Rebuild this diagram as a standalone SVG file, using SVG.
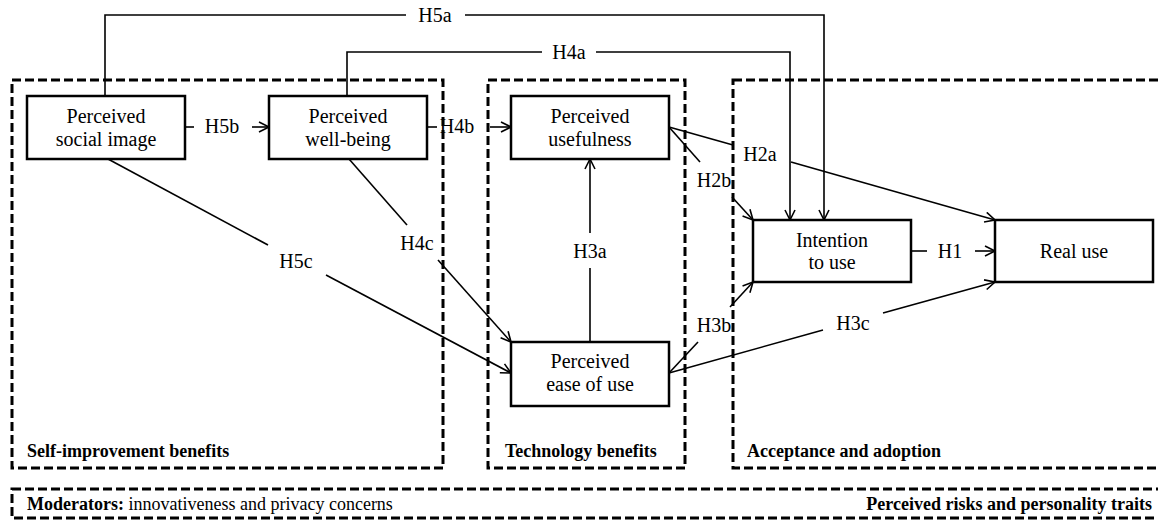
<svg xmlns="http://www.w3.org/2000/svg" width="1158" height="524" viewBox="0 0 1158 524">
<style>
.bg{fill:#fff}
.grp{fill:none;stroke:#000;stroke-width:3;stroke-dasharray:9 4}
.box{fill:#fff;stroke:#000;stroke-width:2.5}
text{font-family:'Liberation Serif','Times New Roman','DejaVu Serif',serif}
.t{font-size:20px;fill:#000;text-anchor:middle}
.g{font-size:18px;font-weight:bold;fill:#000}
.m{font-size:18px;fill:#000}
.c{fill:none;stroke:#000;stroke-width:1.6}
.a{marker-end:url(#arr)}
</style>
<defs>
<marker id="arr" markerUnits="userSpaceOnUse" markerWidth="14" markerHeight="14" refX="11" refY="6" orient="auto">
<path d="M1,1 L11,6 L1,11" fill="none" stroke="#000" stroke-width="1.6"/>
</marker>
</defs>
<rect class="bg" x="0" y="0" width="1158" height="524"/>

<g id="group-self-improvement">
<rect class="grp" x="12" y="80" width="431" height="388"/>
<text class="g" x="27" y="457" font-family="Liberation Serif, Times New Roman, DejaVu Serif, serif">Self-improvement benefits</text>
</g>
<g id="group-technology">
<rect class="grp" x="488" y="80" width="197" height="388"/>
<text class="g" x="505" y="457" font-family="Liberation Serif, Times New Roman, DejaVu Serif, serif">Technology benefits</text>
</g>
<g id="group-acceptance">
<rect class="grp" x="733" y="80" width="440" height="388"/>
<text class="g" x="747" y="457" font-family="Liberation Serif, Times New Roman, DejaVu Serif, serif">Acceptance and adoption</text>
</g>
<g id="group-moderators">
<rect class="grp" x="12" y="489" width="1161" height="29"/>
<text class="m" x="27" y="510" font-family="Liberation Serif, Times New Roman, DejaVu Serif, serif"><tspan font-weight="bold">Moderators:</tspan> innovativeness and privacy concerns</text>
<text class="g" x="1152" y="510" text-anchor="end" font-family="Liberation Serif, Times New Roman, DejaVu Serif, serif">Perceived risks and personality traits</text>
</g>

<g id="connectors" font-family="Liberation Serif, Times New Roman, DejaVu Serif, serif">
<path class="c" d="M105,96 V15 H406"/>
<path class="c a" d="M465,15 H824 V220"/>
<text class="t" x="435" y="22">H5a</text>

<path class="c" d="M347,96 V52 H542"/>
<path class="c a" d="M596,52 H790 V220"/>
<text class="t" x="569" y="59">H4a</text>

<path class="c" d="M185,127 H194"/>
<path class="c a" d="M252,127 H269"/>
<text class="t" x="222" y="133">H5b</text>

<path class="c" d="M427,127 H437"/>
<path class="c a" d="M490,127 H511"/>
<text class="t" x="457" y="133">H4b</text>

<path class="c" d="M590,342 V268"/>
<path class="c a" d="M590,233 V159"/>
<text class="t" x="590" y="258">H3a</text>

<path class="c" d="M669,127 L733,145"/>
<path class="c a" d="M791,162 L995,220"/>
<text class="t" x="760" y="161">H2a</text>

<path class="c" d="M669,127 L700,162"/>
<path class="c a" d="M732,197 L753,220"/>
<text class="t" x="714" y="187">H2b</text>

<path class="c" d="M911,251 H927"/>
<path class="c a" d="M975,251 H995"/>
<text class="t" x="950" y="258">H1</text>

<path class="c" d="M669,373 L698,342"/>
<path class="c a" d="M730,307 L753,282"/>
<text class="t" x="714" y="332">H3b</text>

<path class="c" d="M669,373 L823,330"/>
<path class="c a" d="M883,313 L995,282"/>
<text class="t" x="853" y="330">H3c</text>

<path class="c" d="M349,159 L407,225"/>
<path class="c a" d="M438,260 L511,342"/>
<text class="t" x="417" y="250">H4c</text>

<path class="c" d="M108,159 L268,245"/>
<path class="c a" d="M326,275 L511,373"/>
<text class="t" x="296" y="268">H5c</text>
</g>

<g id="node-social-image" font-family="Liberation Serif, Times New Roman, DejaVu Serif, serif">
<rect class="box" x="27" y="96" width="158" height="63"/>
<text class="t" x="106" y="123">Perceived</text>
<text class="t" x="106" y="146">social image</text>
</g>
<g id="node-well-being" font-family="Liberation Serif, Times New Roman, DejaVu Serif, serif">
<rect class="box" x="269" y="96" width="158" height="63"/>
<text class="t" x="348" y="123">Perceived</text>
<text class="t" x="348" y="146">well-being</text>
</g>
<g id="node-usefulness" font-family="Liberation Serif, Times New Roman, DejaVu Serif, serif">
<rect class="box" x="511" y="96" width="158" height="63"/>
<text class="t" x="590" y="123">Perceived</text>
<text class="t" x="590" y="146">usefulness</text>
</g>
<g id="node-ease-of-use" font-family="Liberation Serif, Times New Roman, DejaVu Serif, serif">
<rect class="box" x="511" y="342" width="158" height="64"/>
<text class="t" x="590" y="368">Perceived</text>
<text class="t" x="590" y="391">ease of use</text>
</g>
<g id="node-intention" font-family="Liberation Serif, Times New Roman, DejaVu Serif, serif">
<rect class="box" x="753" y="220" width="158" height="62"/>
<text class="t" x="832" y="247">Intention</text>
<text class="t" x="832" y="269">to use</text>
</g>
<g id="node-real-use" font-family="Liberation Serif, Times New Roman, DejaVu Serif, serif">
<rect class="box" x="995" y="220" width="158" height="62"/>
<text class="t" x="1074" y="258">Real use</text>
</g>
</svg>
